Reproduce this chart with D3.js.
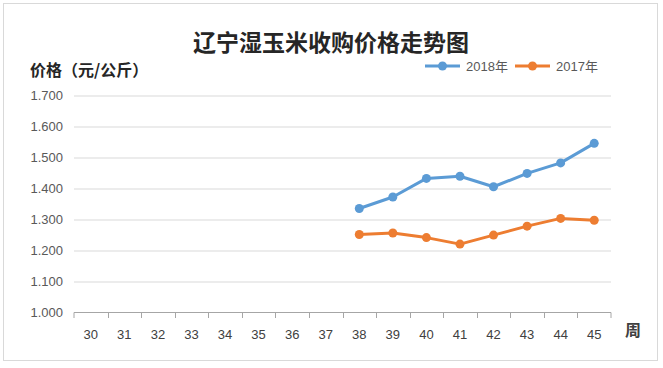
<!DOCTYPE html>
<html>
<head>
  <meta charset="utf-8">
  <title>辽宁湿玉米收购价格走势图</title>
  <style type="text/css">
    body { margin: 0; background: #fff; }
    svg text { font-family: "Liberation Sans", "Noto Sans CJK SC", sans-serif; }
    .cjk { font-family: "Noto Sans CJK SC", sans-serif !important; }
  </style>
</head>
<body>
  <div id="chart"></div>
  <script src="https://cdnjs.cloudflare.com/ajax/libs/d3/7.8.5/d3.min.js"></script>
  <script type="text/javascript">
  // data
  var weeks = ['30', '31', '32', '33', '34', '35', '36', '37', '38', '39', '40', '41', '42', '43', '44', '45'];
  var weeks2018 = ['38', '39', '40', '41', '42', '43', '44', '45'];
  var price2018 = [1.334, 1.371, 1.431, 1.438, 1.404, 1.447, 1.481, 1.544];
  var weeks2017 = ['38', '39', '40', '41', '42', '43', '44', '45'];
  var price2017 = [1.250, 1.255, 1.240, 1.219, 1.248, 1.277, 1.302, 1.296];
  var yTicks = [1.0, 1.1, 1.2, 1.3, 1.4, 1.5, 1.6, 1.7];

  var series = [
    { name: '2018年', color: '#5B9BD5', weeks: weeks2018, values: price2018 },
    { name: '2017年', color: '#ED7D31', weeks: weeks2017, values: price2017 }
  ];

  var cfg = { w: 663, h: 368, left: 74, right: 611, top: 95, bottom: 312 };

  var svg = d3.select('#chart').append('svg')
    .attr('width', cfg.w)
    .attr('height', cfg.h);

  // outer frame
  svg.append('rect')
    .attr('x', 3.5).attr('y', 3.5)
    .attr('width', 654).attr('height', 357)
    .attr('fill', '#fff')
    .attr('stroke', '#d9d9d9');

  var xSc = d3.scaleBand().domain(weeks).range([cfg.left, cfg.right]);
  var ySc = d3.scaleLinear().domain([1.0, 1.7]).range([cfg.bottom, cfg.top]);

  // gridlines
  var yAxis = d3.axisLeft(ySc)
    .tickValues(yTicks)
    .tickFormat(d3.format('.3f'))
    .tickSize(-(cfg.right - cfg.left))
    .tickPadding(11);

  var gy = svg.append('g')
    .attr('transform', 'translate(' + cfg.left + ',0)')
    .call(yAxis);
  gy.select('.domain').remove();
  gy.selectAll('line')
    .attr('stroke', '#d9d9d9')
    .attr('stroke-width', 1.2)
    .attr('transform', 'translate(0,0.5)');
  gy.selectAll('text')
    .attr('fill', '#595959')
    .style('font-size', '13px');
  gy.selectAll('.tick').filter(function(d) { return d === 1.0 }).select('line').remove();

  // x axis
  var xAxis = d3.axisBottom(xSc).tickSize(0).tickPadding(18);
  var gx = svg.append('g')
    .attr('transform', 'translate(0,' + cfg.bottom + ')')
    .call(xAxis);
  gx.select('.domain')
    .attr('stroke', '#a6a6a6')
    .attr('d', 'M' + cfg.left + ',6V0.5H' + cfg.right + 'V6');
  gx.selectAll('text')
    .attr('fill', '#404040')
    .style('font-size', '13px');

  // band boundary ticks
  var bounds = weeks.map(function(w) { return xSc(w) });
  gx.selectAll('line.bt')
    .data(bounds.slice(1))
    .enter()
    .append('line')
    .classed('bt', true)
    .attr('x1', function(d) { return Math.round(d) + 0.5 })
    .attr('x2', function(d) { return Math.round(d) + 0.5 })
    .attr('y1', 0)
    .attr('y2', 6)
    .attr('stroke', '#a6a6a6');

  // lines and markers
  var line = d3.line()
    .x(function(d) { return xSc(d[0]) + xSc.bandwidth() / 2 })
    .y(function(d) { return ySc(d[1]) });

  series.forEach(function(s) {
    var pts = s.weeks.map(function(w, i) { return [w, s.values[i]] });
    svg.append('path')
      .datum(pts)
      .attr('d', line)
      .attr('fill', 'none')
      .attr('stroke', s.color)
      .attr('stroke-width', 3)
      .attr('stroke-linejoin', 'round');
    svg.selectAll('circle.m' + s.name)
      .data(pts)
      .enter()
      .append('circle')
      .attr('cx', function(d) { return xSc(d[0]) + xSc.bandwidth() / 2 })
      .attr('cy', function(d) { return ySc(d[1]) })
      .attr('r', 4.5)
      .attr('fill', s.color);
  });

  // title
  svg.append('text')
    .classed('cjk', true)
    .attr('x', 331).attr('y', 51)
    .attr('text-anchor', 'middle')
    .style('font-size', '23px')
    .style('font-weight', 'bold')
    .attr('fill', '#262626')
    .text('辽宁湿玉米收购价格走势图');

  // y title
  svg.append('text')
    .classed('cjk', true)
    .attr('x', 30).attr('y', 76)
    .style('font-size', '16px')
    .style('font-weight', 'bold')
    .attr('fill', '#262626')
    .text('价格（元/公斤）');

  // x unit
  svg.append('text')
    .classed('cjk', true)
    .attr('x', 633).attr('y', 336)
    .attr('text-anchor', 'middle')
    .style('font-size', '16px')
    .style('font-weight', 'bold')
    .attr('fill', '#404040')
    .text('周');

  // legend
  var legX = [425, 515];
  var leg = svg.selectAll('g.leg')
    .data(series)
    .enter()
    .append('g')
    .classed('leg', true)
    .attr('transform', function(d, i) { return 'translate(' + legX[i] + ',66)' });
  leg.append('line')
    .attr('x1', 0).attr('x2', 35)
    .attr('stroke', function(d) { return d.color })
    .attr('stroke-width', 3);
  leg.append('circle')
    .attr('cx', 17.5).attr('r', 4.5)
    .attr('fill', function(d) { return d.color });
  leg.append('text')
    .attr('x', 41).attr('y', 5)
    .style('font-size', '13px')
    .attr('fill', '#595959')
    .text(function(d) { return d.name });
  </script>
</body>
</html>
